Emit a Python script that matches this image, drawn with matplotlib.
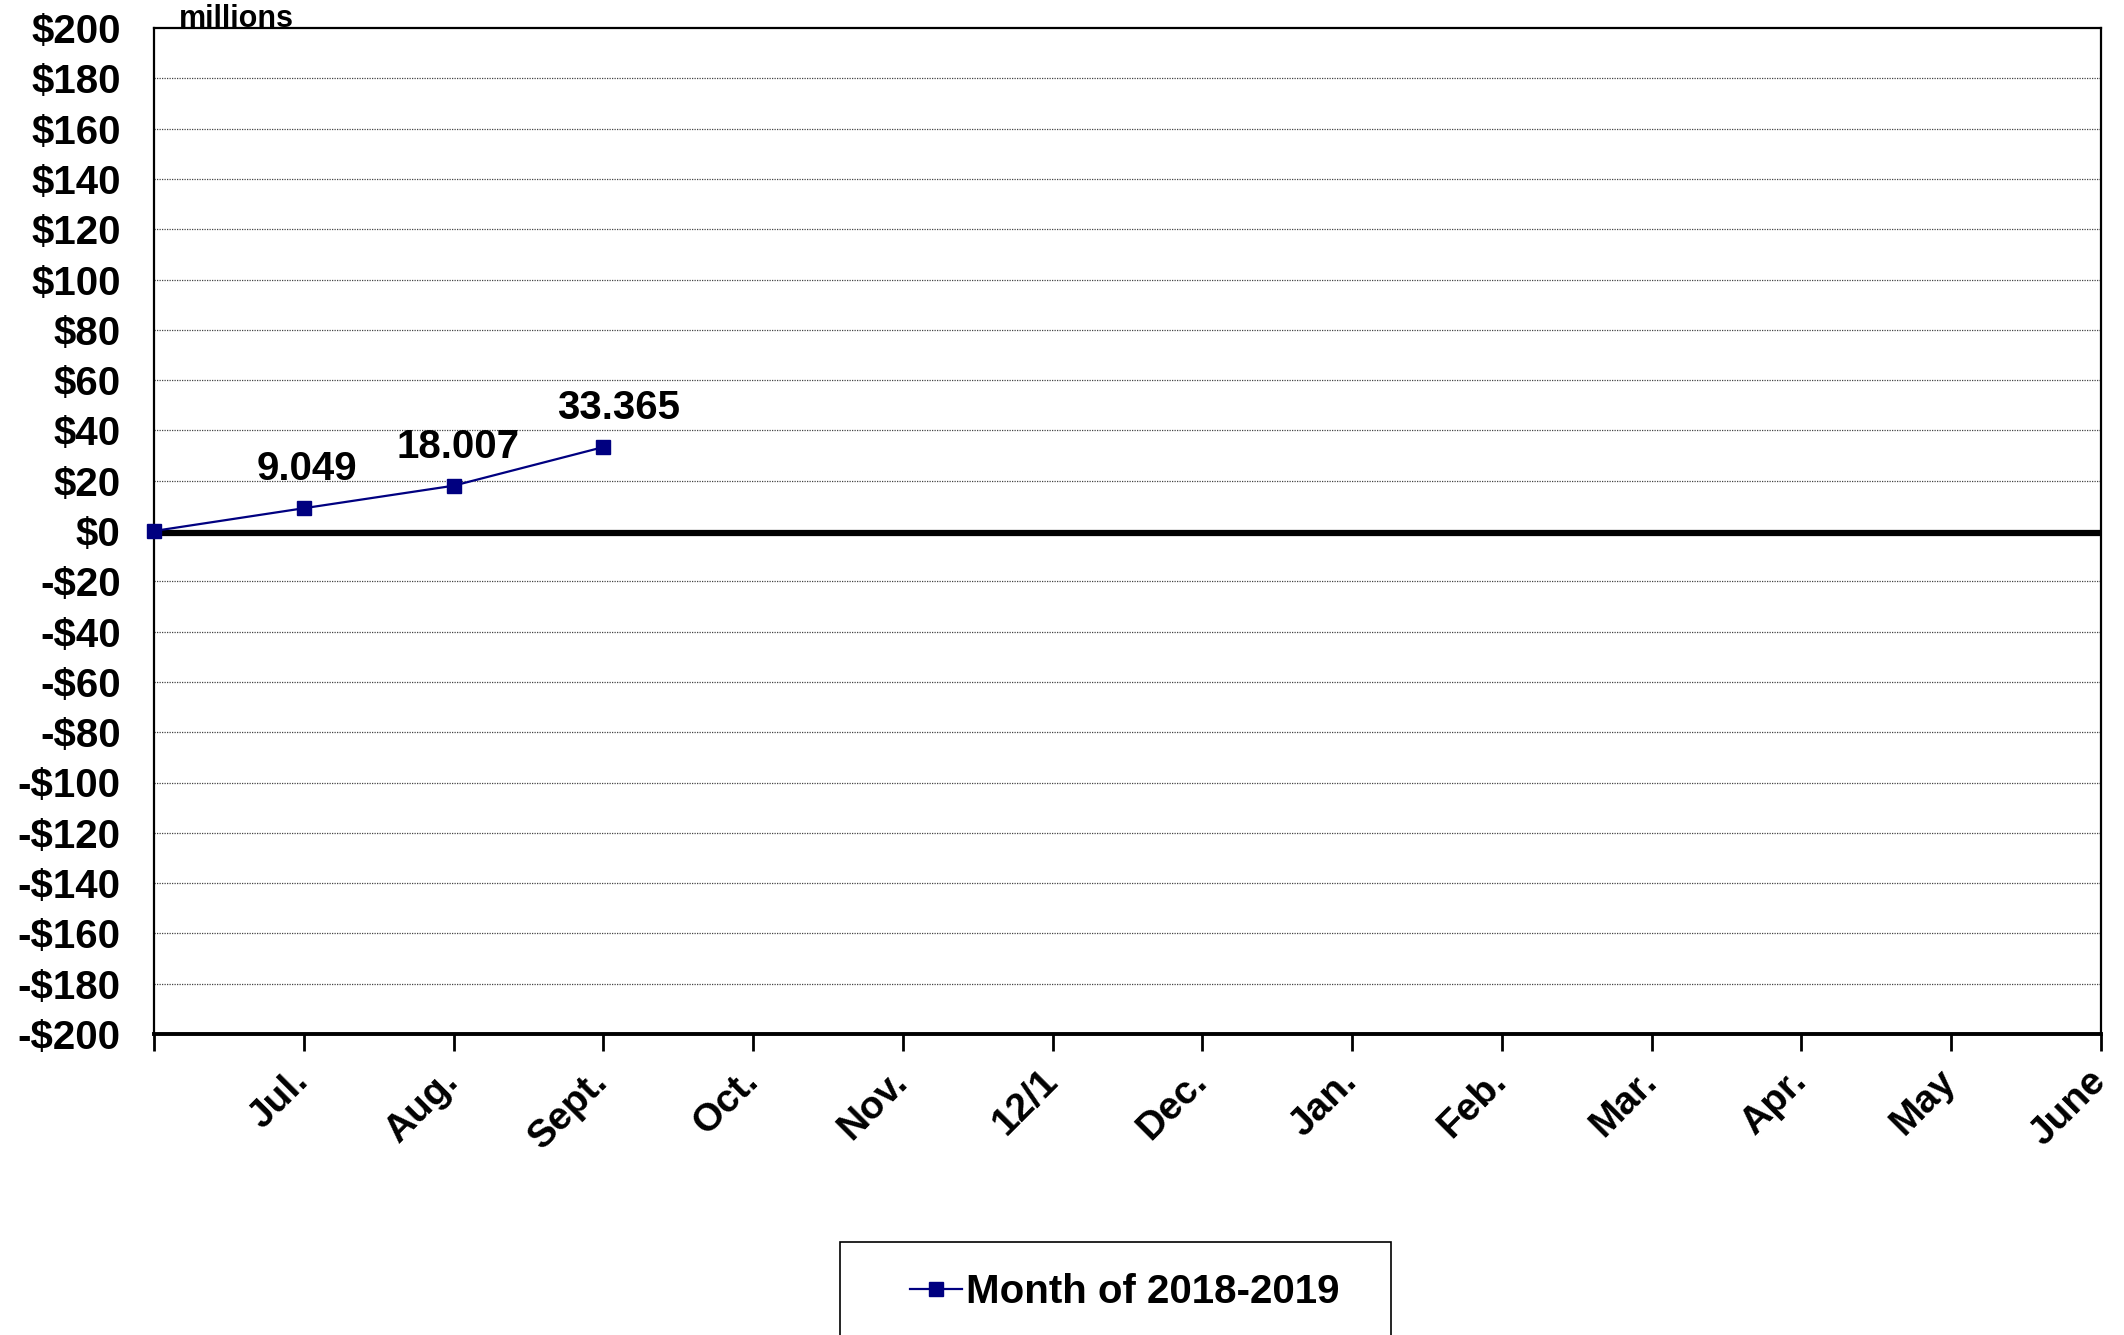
import numpy as np
import matplotlib
matplotlib.use("Agg")
import matplotlib.pyplot as plt
import matplotlib.transforms as mtransforms
from matplotlib.patches import Rectangle
from matplotlib.lines import Line2D

plt.rcParams['font.family'] = ['Liberation Sans', 'DejaVu Sans']
plt.rcParams['font.weight'] = 'bold'

# data
months = ['', 'Jul.', 'Aug.', 'Sept.', 'Oct.', 'Nov.', '12/1', 'Dec.',
          'Jan.', 'Feb.', 'Mar.', 'Apr.', 'May', 'June']
values = [0, 9.049, 18.007, 33.365]
value_labels = ['9.049', '18.007', '33.365']
yticks = np.arange(-200, 201, 20)
series_name = 'Month of 2018-2019'

navy = '#000080'

fig = plt.figure(figsize=(21.24, 13.35), dpi=100)
ax = fig.add_axes([154/2124, 1-1034/1335, (2101-154)/2124, (1034-28)/1335])

x = np.arange(len(values))
ax.plot(x, values, color=navy, lw=1.6, marker='s', markersize=10,
        zorder=5, clip_on=False)

# data labels
label_dx = [2, 3, 11]
for xi, v, lab, dx in zip(x[1:], values[1:], value_labels, label_dx):
    ax.annotate(lab, (xi, v), xytext=(dx, 28), textcoords='offset points',
                ha='center', va='center', fontsize=29, fontweight='bold')

ax.set_xlim(0, len(months) - 1)
ax.set_ylim(-200, 200)

ax.set_yticks(yticks)
ax.set_yticklabels([('-$%d' % -t) if t < 0 else ('$%d' % t) for t in yticks],
                   fontsize=29, fontweight='bold')
ax.tick_params(axis='y', length=0, pad=24)

ax.set_xticks(np.arange(len(months)))
ax.set_xticklabels(months, rotation=45, ha='right', fontsize=28,
                   fontweight='bold')
ax.tick_params(axis='x', length=12, width=2, pad=9, direction='out')
offset = mtransforms.ScaledTranslation(12/100, 0, fig.dpi_scale_trans)
for lbl in ax.get_xticklabels():
    lbl.set_transform(lbl.get_transform() + offset)

# grid
for t in yticks[1:-1]:
    if t != 0:
        ax.axhline(t, color='#444444', lw=0.9, ls=(0, (1, 1)), zorder=1)
ax.axhline(-0.6, color='black', lw=4.5, zorder=3)

for s in ['top', 'right', 'left']:
    ax.spines[s].set_linewidth(1.6)
ax.spines['bottom'].set_linewidth(2.8)

fig.text(179/2124, 1-19/1335, 'millions', fontsize=22, fontweight='bold',
         ha='left', va='center')

# legend box
fig.patches.append(Rectangle((840/2124, -0.02), (1391-840)/2124,
                             0.02 + 1 - 1242/1335, transform=fig.transFigure,
                             fill=False, edgecolor='black', lw=1.2))
handle = Line2D([], [], color=navy, lw=1.6, marker='s', markersize=10)
fig.legend([handle], [series_name], loc='center',
           bbox_to_anchor=(1125/2124, 1-1292/1335), frameon=False,
           prop={'size': 29, 'weight': 'bold'}, handlelength=1.3,
           handletextpad=0.1)

fig.savefig('out.png', dpi=100)
